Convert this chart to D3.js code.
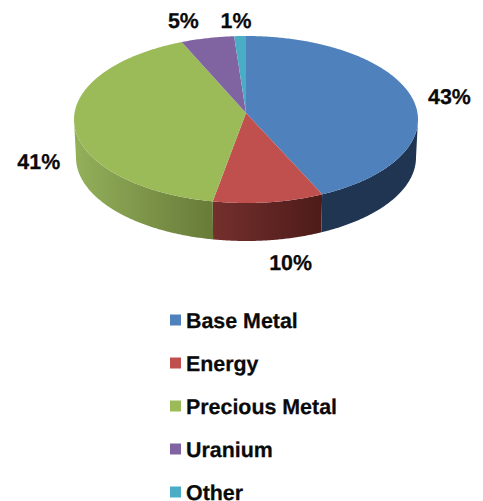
<!DOCTYPE html>
<html>
<head>
<meta charset="utf-8">
<script src="https://cdn.jsdelivr.net/npm/d3@7"></script>
<style>
  html, body { margin: 0; padding: 0; background: #fff; }
  svg { display: block; }
  text {
    font-family: "Liberation Sans", Arial, sans-serif;
    font-weight: bold;
    fill: #0a0a0a;
    stroke: #0a0a0a;
    stroke-width: 0.25px;
    text-rendering: geometricPrecision;
  }
</style>
</head>
<body>
<div class="pie"></div>
<script>
const categories = ['Base Metal', 'Energy', 'Precious Metal', 'Uranium', 'Other'];
const shares = [42.7, 10.4, 40.8, 5.0, 1.1];
const colors = ['#4f81bd', '#c0504d', '#9bbb59', '#8064a2', '#4bacc6'];

const width = 483;
const height = 501;

// the top face is a tilted ellipse, the apex sits a bit above its middle
const cx = 246, cy = 119.5, rx = 172, ry = 83.5;
const apexY = 113;
const depth = 38;

const svg = d3.select('.pie').append('svg')
  .attr('width', width)
  .attr('height', height);

const slices = d3.pie().sort(null)(shares);

const rimX = (a, r = rx) => cx + r * Math.sin(a);
const rimY = (a, off = 0) => cy + off - ry * Math.cos(a);

function rimPoints(a0, a1, r, off) {
  const n = Math.max(2, Math.ceil(Math.abs(a1 - a0) / 0.01));
  return d3.range(n + 1).map((i) => {
    const a = a0 + (a1 - a0) * i / n;
    return [rimX(a, r), rimY(a, off)];
  });
}

const line = d3.line();
const defs = svg.append('defs');

function wallGradient(id, stops) {
  const g = defs.append('linearGradient')
    .attr('id', id)
    .attr('gradientUnits', 'userSpaceOnUse')
    .attr('x1', stops.x0).attr('x2', stops.x1)
    .attr('y1', 0).attr('y2', 0);
  g.append('stop').attr('offset', 0).attr('stop-color', stops.from);
  g.append('stop').attr('offset', 1).attr('stop-color', stops.to);
}

wallGradient('wall0', { x0: 323, x1: 418, from: '#1f3552', to: '#1f3552' });
wallGradient('wall1', { x0: 212, x1: 323, from: '#74302d', to: '#4d1b19' });
wallGradient('wall2', { x0: 74, x1: 212, from: '#93b05a', to: '#687b39' });

// side walls, only the front half of the rim shows
const front = [Math.PI / 2, Math.PI * 1.5];
slices.forEach((d, i) => {
  const a0 = Math.max(d.startAngle, front[0]);
  const a1 = Math.min(d.endAngle, front[1]);
  if (a1 <= a0) return;
  const pts = rimPoints(a0, a1, rx, 0).concat(rimPoints(a1, a0, rx - 2, depth));
  svg.append('path')
    .attr('d', line(pts) + 'Z')
    .attr('fill', `url(#wall${i})`);
});

// top face
svg.selectAll('.slice')
  .data(slices)
  .enter().append('path')
  .attr('class', 'slice')
  .attr('d', (d) => line([[cx, apexY]].concat(rimPoints(d.startAngle, d.endAngle, rx, 0))) + 'Z')
  .attr('fill', (d, i) => colors[i]);

// percent labels, pushed off the rim at each slice's mid angle
const nudges = [[36, -4], [22, 60], [-36, 34], [-24, -18], [-4, -16]];
svg.selectAll('.pct')
  .data(slices)
  .enter().append('text')
  .attr('class', 'pct')
  .attr('x', (d, i) => rimX((d.startAngle + d.endAngle) / 2) + nudges[i][0])
  .attr('y', (d, i) => rimY((d.startAngle + d.endAngle) / 2) + nudges[i][1])
  .attr('dy', '0.35em')
  .attr('text-anchor', 'middle')
  .style('font-size', '21.4px')
  .text((d) => `${Math.round(d.value)}%`);

// legend
const legendY = d3.scalePoint().domain(categories).range([320, 492]);
const legend = svg.selectAll('.legend')
  .data(categories)
  .enter().append('g')
  .attr('class', 'legend')
  .attr('transform', (d) => `translate(170, ${legendY(d)})`);

legend.append('rect')
  .attr('y', -5.5)
  .attr('width', 11)
  .attr('height', 11)
  .attr('fill', (d, i) => colors[i]);

legend.append('text')
  .attr('x', 16)
  .attr('dy', '0.35em')
  .style('font-size', '21.4px')
  .text((d) => d);
</script>
</body>
</html>
